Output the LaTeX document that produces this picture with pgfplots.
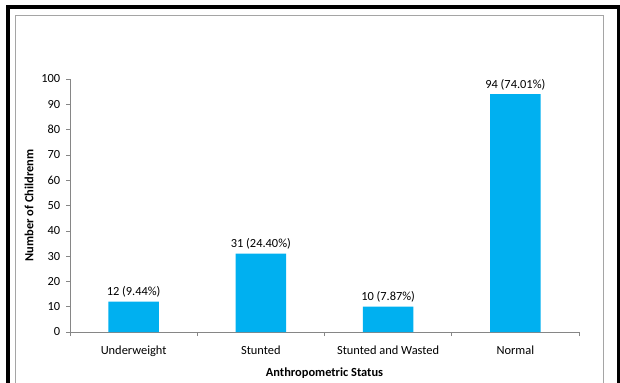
\documentclass[border=0pt]{standalone}
\usepackage{pgfplots}
\pgfplotsset{compat=1.18}
\usepackage{fontspec}
\setmainfont{Carlito}
\definecolor{barcyan}{RGB}{0,176,240}
\definecolor{axgray}{RGB}{134,134,134}
\definecolor{framegray}{RGB}{165,165,165}
\begin{document}
\fontsize{9.3}{11}\selectfont
\begin{tikzpicture}[x=0.75pt,y=0.75pt]
\useasboundingbox (0,0) rectangle (620,382);
\clip (0,0) rectangle (620,382);
\fill[white] (0,0) rectangle (620,382);
\begin{axis}[
  at={(52.5pt,37.5pt)}, anchor=south west,
  scale only axis, width=381.75pt, height=189.75pt,
  xmin=-0.5, xmax=3.5, ymin=0, ymax=100,
  axis lines=left, axis line style={-, draw=axgray},
  ytick={0,10,...,100},
  xtick={0,1,2,3},
  xticklabels={Underweight,Stunted,Stunted and Wasted,Normal},
  minor xtick={-0.5,0.5,1.5,2.5,3.5},
  tick align=outside,
  major tick length=3pt, minor tick length=3pt,
  x tick style={draw=none},
  minor x tick style={draw=axgray, thin},
  y tick style={draw=axgray, thin},
  /pgf/number format/assume math mode=true,
  tick label style={font=\fontsize{9.3}{11}\selectfont, text=black},
  yticklabel style={xshift=-1pt},
  xticklabel style={yshift=-4pt},
  xlabel={\textbf{Anthropometric Status}},
  ylabel={\textbf{Number of Childrenm}},
  label style={font=\fontsize{9.3}{11}\selectfont},
  xlabel style={at={(axis description cs:0.5,0)}, anchor=center, yshift=-30.5pt},
  ylabel style={at={(axis description cs:0,0.5)}, anchor=center, rotate=0, xshift=0pt, yshift=30.75pt},
  ybar, bar width=38pt,
  nodes near coords,
  point meta=explicit symbolic,
  every node near coord/.append style={anchor=base, yshift=4.5pt, text=black, font=\fontsize{9.3}{11}\selectfont},
]
\addplot[fill=barcyan, draw=none] table[col sep=comma, x=x, y=y, meta=label] {
x,y,label
0,12,12 (9.44\%)
1,31,31 (24.40\%)
2,10,10 (7.87\%)
3,94,94 (74.01\%)
};
\end{axis}
\draw[framegray, line width=1.2] (15.5,-10) -- (15.5,366.5) -- (603.5,366.5) -- (603.5,-10);
\draw[black, line width=3] (7.5,-10) -- (7.5,374.5) -- (618.5,374.5) -- (618.5,-10);
\end{tikzpicture}
\end{document}
